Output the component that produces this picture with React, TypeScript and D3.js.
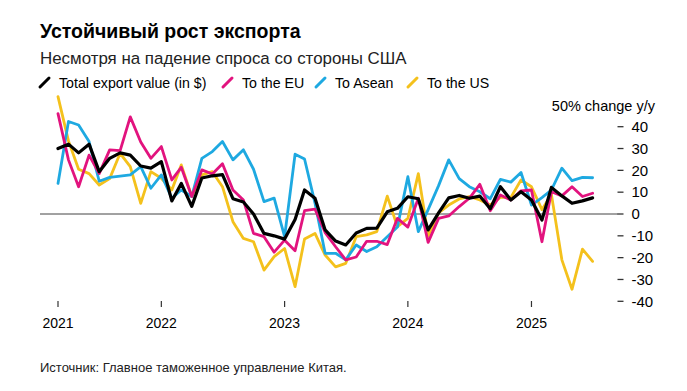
import React from "react";
import * as d3 from "d3";

// ---- Data (y/y % change, monthly, Mar 2021 – Jul 2025) ----
const START = "2021-03-01";
const END = "2025-07-01";

const totalExport = [
  30, 32, 28, 32, 19.4, 25.5, 28, 27, 22, 21,
  24, 6, 14, 3.5, 16.5, 17.5, 18, 7, 5.5, 0, -8.9, -10,
  -11.5, -2.5, 11, 7.2, -7.3, -12.4, -14.2, -8.7, -6.6, -6.5, 1, 2.6,
  7.9, 7, -7.3, 0.5, 7.4, 8.5, 7.2, 8.2, 2.4, 12.5, 6.4, 10.2,
  6.4, -2.8, 12.2, 8.3, 4.9, 6, 7.4,
];
const toEU = [
  46, 24.8, 12.5, 27, 18.5, 29.4, 29, 44.5, 33, 25.5,
  30.9, 15.6, 21.4, 8, 20.2, 18.3, 23, 11, 6.4, -8.9, -10.4, -17.5,
  -12, -16.8, 1.5, 2.2, -8.5, -15, -21, -19.7, -12.5, -12.5, -14, -2,
  -6, 7.2, -13, -2, -0.9, 3.4, 7.2, 13.6, 1.5, 8.7, 6.4, 10.6,
  11, -12.7, 10.2, 8.3, 12.5, 8, 9.5,
];
const toAsean = [
  14, 42.4, 40.8, 33.2, 15, 16.8, 17.4, 17.9, 21.7, 11.8,
  17.9, 7.2, 11, 8, 25.5, 28.6, 33.2, 24.8, 29.4, 20.5, 5.7, 7.3,
  -10.4, 27.4, 25.2, 5, -18, -18, -21, -14.2, -17.2, -15, -10.4, -6,
  17.1, -8.1, 2, 13, 24.8, 16.2, 12.5, 10.2, 7, 15.9, 14.6, 19,
  4.1, 7.5, 11, 21, 15.3, 16.8, 16.6,
];
const toUS = [
  53.8, 33.5, 20.5, 18.5, 13.3, 16.2, 27.8, 21.7, 4.9, 19.4,
  16.4, 11, 22.5, 8, 17.9, 19.4, 12.5, -3.5, -11.2, -12.7, -25.7, -19.5,
  -15.8, -33.3, -11.5, -8.9, -18.8, -24.2, -22.6, -10.4, -9.6, -8.1, 8.2, -5.8,
  -2, 18.5, -10, 0.5, 4.1, 6.9, 8, 6.4, 4.1, 7.6, 7.6, 15.6,
  12.5, 2, 9, -21, -34.5, -16.1, -21.7,
];

const seriesNames = ["Total export value (in $)", "To the EU", "To Asean", "To the US"];
const seriesColors = ["#000000", "#e2137e", "#1ea9e1", "#f4c11c"];

const yTicks = [40, 30, 20, 10, 0, -10, -20, -30, -40];
const xTickDates = ["2021-03-01", "2022-01-01", "2023-01-01", "2024-01-01", "2025-01-01"];
const xTickLabels = ["2021", "2022", "2023", "2024", "2025"];

const TITLE = "Устойчивый рост экспорта";
const SUBTITLE = "Несмотря на падение спроса со стороны США";
const Y_TITLE = "50% change y/y";
const SOURCE = "Источник: Главное таможенное управление Китая.";

const FONT = "'Liberation Sans', Arial, Helvetica, sans-serif";

export default function App() {
  const W = 687;
  const H = 391;
  const parse = d3.timeParse("%Y-%m-%d");
  const months = d3.timeMonth.range(parse(START)!, d3.timeMonth.offset(parse(END)!, 1));

  const x = d3.scaleTime().domain([parse(START)!, parse(END)!]).range([58, 592.6]);
  const y = d3.scaleLinear().domain([-40, 40]).range([301.3, 126.7]);

  const line = d3
    .line<number>()
    .x((_, i) => x(months[i]))
    .y((d) => y(d));

  const allSeries = [totalExport, toEU, toAsean, toUS];
  const drawOrder = [3, 2, 1, 0];
  const legendX = [39, 222, 315, 407];

  return (
    <svg
      width={W}
      height={H}
      viewBox={`0 0 ${W} ${H}`}
      style={{ position: "absolute", left: 0, top: 0, background: "#fff" }}
      fontFamily={FONT}
    >
      <rect x={0} y={0} width={W} height={H} fill="#fff" />
      <text x={40} y={37.5} fontSize={19.5} fontWeight="bold" fill="#000">
        {TITLE}
      </text>
      <text x={40} y={64} fontSize={16.9} fill="#222">
        {SUBTITLE}
      </text>

      {/* Legend */}
      {seriesNames.map((name, i) => (
        <g key={name} transform={`translate(${legendX[i]},0)`}>
          <line x1={1} y1={87} x2={10} y2={78} stroke={seriesColors[i]} strokeWidth={3} strokeLinecap="round" />
          <text x={20} y={87.5} fontSize={14.2} fill="#000">
            {name}
          </text>
        </g>
      ))}

      {/* Y axis title */}
      <text x={655} y={111} fontSize={14.5} textAnchor="end" fill="#000">
        {Y_TITLE}
      </text>

      {/* Y ticks */}
      {yTicks.map((t) => (
        <g key={t}>
          <line x1={617.5} x2={623.5} y1={y(t)} y2={y(t)} stroke="#333" strokeWidth={1.3} />
          <text x={631.5} y={y(t) + 5.3} fontSize={15} fill="#000">
            {t}
          </text>
        </g>
      ))}

      {/* Zero line */}
      <line x1={40} x2={618} y1={y(0)} y2={y(0)} stroke="#444" strokeWidth={1} />

      {/* X ticks */}
      {xTickDates.map((d, i) => {
        const xx = x(parse(d)!);
        return (
          <g key={d}>
            <line x1={xx} x2={xx} y1={301} y2={307} stroke="#333" strokeWidth={1.2} />
            <text x={xx} y={327.5} fontSize={14} textAnchor="middle" fill="#000">
              {xTickLabels[i]}
            </text>
          </g>
        );
      })}

      {/* Series */}
      {drawOrder.map((si) => (
        <path
          key={si}
          d={line(allSeries[si]) || ""}
          fill="none"
          stroke={seriesColors[si]}
          strokeWidth={si === 0 ? 3.2 : 2.8}
          strokeLinejoin="round"
          strokeLinecap="round"
        />
      ))}

      {/* Source */}
      <text x={40} y={372} fontSize={13} fill="#222">
        {SOURCE}
      </text>
    </svg>
  );
}
